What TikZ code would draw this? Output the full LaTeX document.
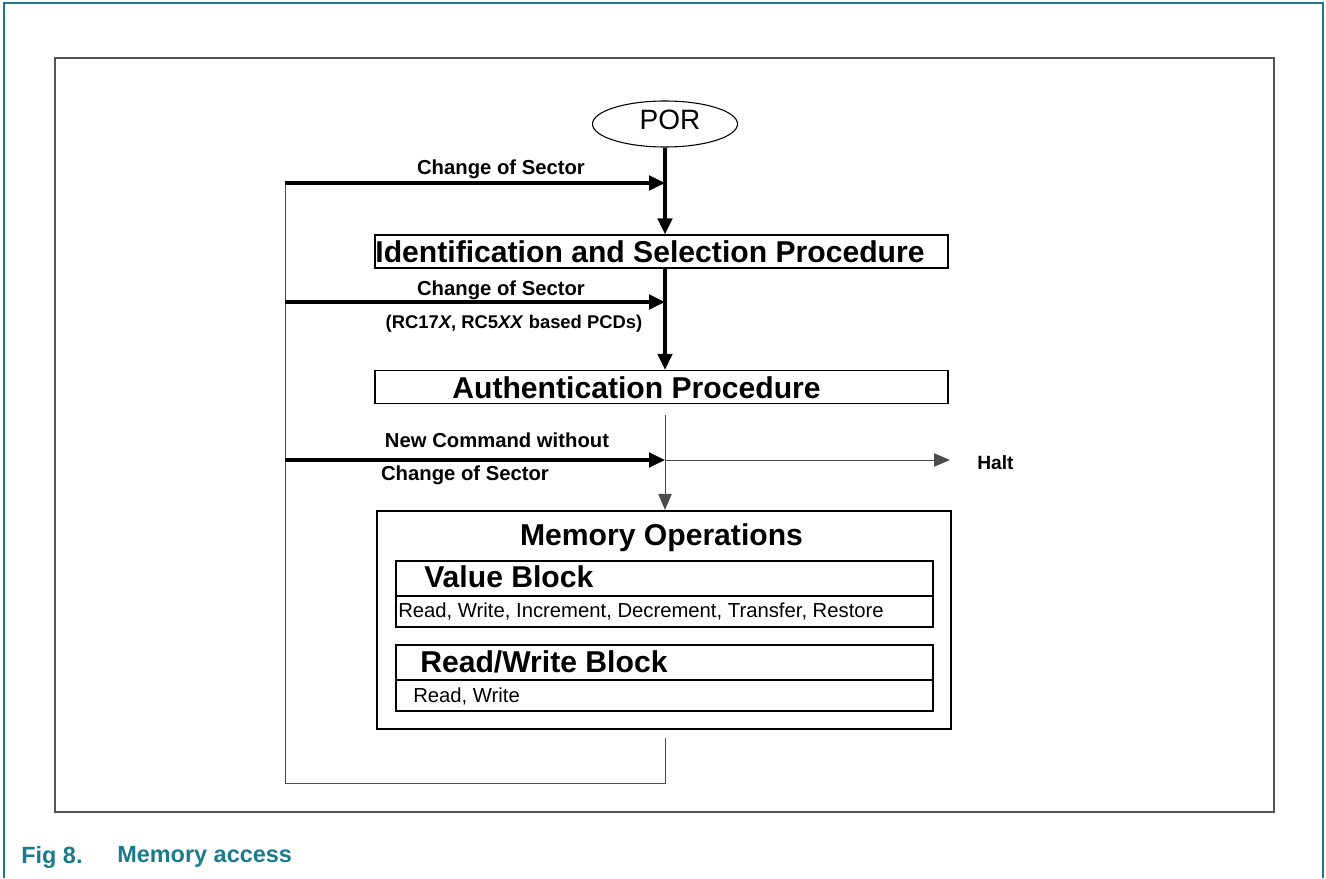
\documentclass[tikz,border=0pt]{standalone}
\usepackage{fontspec}
\setmainfont{Liberation Sans}
\usetikzlibrary{arrows.meta,shapes.geometric}
\definecolor{nxpteal}{HTML}{1B7A8C}
\definecolor{framegray}{HTML}{555555}
\tikzset{
  thickline/.style={line width=2.4pt,-{Triangle[length=12pt,width=11pt]}},
  thinline/.style={line width=0.75pt,draw=black!70,-{Triangle[length=12pt,width=10pt]}},
  plainthin/.style={line width=0.75pt,draw=black!70},
  procbox/.style={draw,line width=1.1pt,minimum width=573*0.75pt,minimum height=33*0.75pt,inner sep=0pt},
  bigtxt/.style={font=\bfseries\fontsize{22.6}{26}\selectfont,inner sep=0pt},
  smalltxt/.style={font=\fontsize{15.2}{18}\selectfont,inner sep=0pt},
  lbl/.style={font=\bfseries\fontsize{15.2}{18}\selectfont,inner sep=0pt},
  subbox/.style={draw,line width=0.8pt,minimum width=537*0.75pt,inner sep=0pt},
  captxt/.style={font=\bfseries\fontsize{17.6}{20}\selectfont,text=nxpteal,anchor=west,inner sep=0pt},
}
\begin{document}
\begin{tikzpicture}[x=0.75pt,y=-0.75pt]
\useasboundingbox (0,0) rectangle (1326,878);
% outer teal frame
\draw[nxpteal,line width=1.2pt] (4,878) -- (4,3) -- (1323,3) -- (1323,878);
% inner frame
\draw[framegray,line width=1pt] (55,58) rectangle (1274,812);
% POR
\node[ellipse,draw,line width=0.8pt,minimum width=145*0.75pt,minimum height=46*0.75pt,inner sep=0pt] (por) at (665,124) {};
\node[font=\fontsize{21}{24}\selectfont,inner sep=0pt] (port) at (670,120) {POR};
% ID box
\node[procbox] (id) at (661.5,251.5) {};
\node[bigtxt] (idt) at (650,252) {Identification and Selection Procedure};
% Auth box
\node[procbox] (auth) at (661.5,387) {};
\node[bigtxt] (autht) at (636.5,388) {Authentication Procedure};
% Memory box
\node[draw,line width=1.6pt,minimum width=574*0.75pt,minimum height=218*0.75pt,inner sep=0pt] (mem) at (664,620) {};
\node[bigtxt] (memt) at (661.5,538) {Memory Operations};
\node[subbox,minimum height=35*0.75pt] (vbh) at (664.5,578.5) {};
\node[bigtxt,anchor=west] (vbt) at (424,577) {Value Block};
\node[subbox,minimum height=31*0.75pt] (vbb) at (664.5,611.5) {};
\node[smalltxt,anchor=west] (vbtx) at (398,611) {Read, Write, Increment, Decrement, Transfer, Restore};
\node[subbox,minimum height=35*0.75pt] (rwh) at (664.5,662.5) {};
\node[bigtxt,anchor=west] (rwt) at (420,662) {Read/Write Block};
\node[subbox,minimum height=31*0.75pt] (rwb) at (664.5,695.5) {};
\node[smalltxt,anchor=west] (rwtx) at (413,696) {Read, Write};
% coordinates
\coordinate (j1) at (665,183);
\coordinate (j2) at (665,302);
\coordinate (j3) at (665,460);
\coordinate (l1) at (285,183);
\coordinate (l2) at (285,302);
\coordinate (l3) at (285,460);
\coordinate (authout) at (665,415);
\coordinate (memout) at (665,738);
\coordinate (bot) at (665,783);
\coordinate (botl) at (285,783);
\coordinate (halt) at (950,460);
% main flow
\draw[thickline] (por.south -| j1) -- (id.north -| j1);
\draw[thickline] (id.south -| j1) -- (auth.north -| j1);
\draw[thinline] (authout) -- (mem.north -| j1);
\draw[thinline] (j3) -- (halt);
\node[lbl,font=\bfseries\fontsize{14.4}{17}\selectfont,anchor=west] (haltt) at (977,463) {Halt};
% loop
\draw[plainthin] (memout) -- (bot) -- (botl) -- (l1);
\draw[thickline] (l1) -- (j1);
\draw[thickline] (l2) -- (j2);
\draw[thickline] (l3) -- (j3);
% labels
\node[lbl] (c1) at (501,169) {Change of Sector};
\node[lbl] (c2) at (501,290) {Change of Sector};
\node[lbl,font=\bfseries\fontsize{13.8}{16}\selectfont] (c3) at (514,324) {(RC17\textit{X}, RC5\textit{XX} based PCDs)};
\node[lbl] (c4) at (497,440) {New Command without};
\node[lbl] (c5) at (465,475) {Change of Sector};
% caption
\node[captxt] (fig) at (21,857) {Fig 8.};
\node[captxt] (cap) at (117,857) {Memory access};
\end{tikzpicture}
\end{document}
